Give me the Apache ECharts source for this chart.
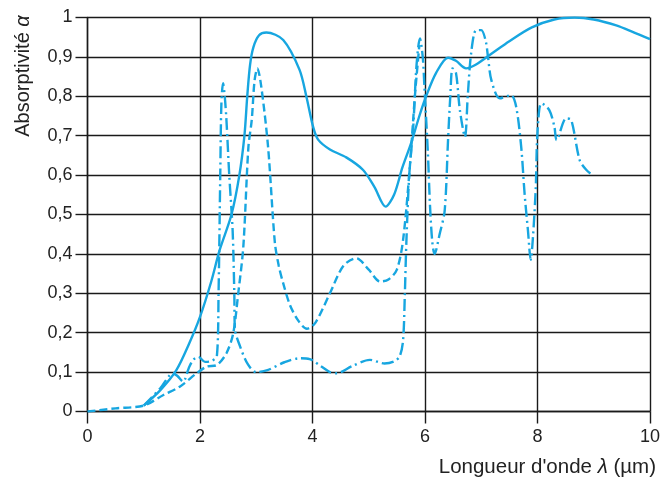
<!DOCTYPE html>
<html>
<head>
<meta charset="utf-8">
<script src="https://cdn.jsdelivr.net/npm/echarts@6/dist/echarts.min.js"></script>
<style>
  html, body { margin: 0; padding: 0; background: #fff; }
  #chart { width: 663px; height: 484px; }
</style>
</head>
<body>
<div id="chart"></div>
<script>
// Wavelength (µm) / absorptivity pairs for the three surfaces
const solidCurve = [
  [1.0, 0.015], [1.3, 0.055], [1.58, 0.105], [1.8, 0.17], [2.0, 0.24], [2.2, 0.33],
  [2.35, 0.41], [2.56, 0.5], [2.70, 0.6], [2.79, 0.7], [2.84, 0.8], [2.89, 0.88],
  [2.95, 0.925], [3.05, 0.955], [3.18, 0.962], [3.48, 0.943], [3.77, 0.867], [3.89, 0.80],
  [4.01, 0.723], [4.1, 0.69], [4.31, 0.665], [4.6, 0.645], [4.9, 0.613], [5.1, 0.57],
  [5.3, 0.52], [5.45, 0.55], [5.6, 0.62], [5.75, 0.68], [5.9, 0.75], [6.02, 0.80],
  [6.2, 0.86], [6.41, 0.898], [6.55, 0.89], [6.73, 0.871], [6.9, 0.88], [7.2, 0.91],
  [7.5, 0.94], [7.9, 0.975], [8.3, 0.995], [8.66, 1.0], [9.0, 0.995], [9.4, 0.98],
  [9.7, 0.963], [10, 0.945]
];

const dashedCurve = [
  [0, 0], [0.5, 0.008], [1.0, 0.015], [1.35, 0.042], [1.64, 0.063], [1.94, 0.097],
  [2.12, 0.114], [2.3, 0.118], [2.47, 0.148], [2.59, 0.198], [2.68, 0.3], [2.77, 0.418],
  [2.86, 0.67], [2.92, 0.74], [2.97, 0.84], [3.02, 0.871], [3.09, 0.824], [3.21, 0.672],
  [3.33, 0.43], [3.4, 0.37], [3.48, 0.325], [3.6, 0.27], [3.75, 0.23], [3.9, 0.21],
  [4.05, 0.225], [4.31, 0.30], [4.55, 0.37], [4.78, 0.389], [5.0, 0.36], [5.2, 0.33],
  [5.35, 0.335], [5.5, 0.36], [5.61, 0.435], [5.73, 0.62], [5.82, 0.80], [5.9, 0.93]
];

const dashDotCurve = [
  [1.0, 0.015], [1.3, 0.06], [1.52, 0.097], [1.6, 0.09], [1.7, 0.076], [1.8, 0.11],
  [1.88, 0.131], [1.97, 0.139], [2.09, 0.126], [2.2, 0.128], [2.3, 0.14], [2.33, 0.3],
  [2.36, 0.6], [2.38, 0.78], [2.41, 0.833], [2.44, 0.8], [2.47, 0.74], [2.52, 0.6],
  [2.58, 0.46], [2.61, 0.3], [2.62, 0.21], [2.7, 0.17], [2.85, 0.12], [3.0, 0.10],
  [3.2, 0.105], [3.5, 0.125], [3.77, 0.135], [3.95, 0.133], [4.15, 0.115], [4.31, 0.10],
  [4.43, 0.097], [4.7, 0.115], [5.02, 0.131], [5.28, 0.122], [5.45, 0.127], [5.55, 0.14],
  [5.61, 0.18], [5.64, 0.29], [5.67, 0.435], [5.72, 0.6], [5.79, 0.72], [5.85, 0.88],
  [5.91, 0.947], [5.96, 0.90], [5.99, 0.824], [6.05, 0.66], [6.09, 0.52], [6.13, 0.43],
  [6.17, 0.40], [6.26, 0.45], [6.35, 0.51], [6.41, 0.69], [6.45, 0.80], [6.49, 0.871],
  [6.55, 0.86], [6.62, 0.765], [6.71, 0.697], [6.76, 0.80], [6.82, 0.909], [6.91, 0.968],
  [7.0, 0.968], [7.08, 0.94], [7.12, 0.90], [7.18, 0.841], [7.33, 0.795], [7.53, 0.803],
  [7.62, 0.774], [7.71, 0.672], [7.77, 0.554], [7.83, 0.46], [7.88, 0.385], [7.92, 0.444],
  [7.97, 0.57], [7.99, 0.68], [8.03, 0.765], [8.07, 0.782], [8.21, 0.765], [8.30, 0.723],
  [8.34, 0.689], [8.51, 0.744], [8.60, 0.74], [8.75, 0.638], [8.87, 0.613], [8.98, 0.60]
];

// Axis tick labels
const xTickLabels = ['0', '2', '4', '6', '8', '10'];
const yTickLabels = ['0', '0,1', '0,2', '0,3', '0,4', '0,5', '0,6', '0,7', '0,8', '0,9', '1'];

const curveColor = '#17a6e0';
const inkColor = '#1a1a1a';
const fontFamily = '"Liberation Sans", Arial, sans-serif';

const chart = echarts.init(document.getElementById('chart'), null, { renderer: 'canvas' });

function curveSeries(data, dash) {
  return {
    type: 'line',
    data: data,
    showSymbol: false,
    smooth: 0.3,
    silent: true,
    lineStyle: { color: curveColor, width: 2.4, type: dash, cap: 'butt' },
    z: 3
  };
}

chart.setOption({
  animation: false,
  backgroundColor: '#fff',
  grid: { left: 87.5, right: 12.5, top: 17.5, bottom: 72.5, containLabel: false },
  xAxis: {
    type: 'value', min: 0, max: 10, interval: 2,
    axisLine: { show: true, lineStyle: { color: inkColor, width: 1.4 } },
    axisTick: { show: true, length: 12, lineStyle: { color: inkColor, width: 1.4 } },
    axisLabel: {
      margin: 17, fontSize: 18, color: '#222', fontFamily: fontFamily,
      formatter: v => xTickLabels[Math.round(v / 2)]
    },
    splitLine: { show: true, lineStyle: { color: inkColor, width: 1.4 } }
  },
  yAxis: {
    type: 'value', min: 0, max: 1, interval: 0.1,
    axisLine: { show: true, lineStyle: { color: inkColor, width: 1.4 } },
    axisTick: { show: true, length: 12, lineStyle: { color: inkColor, width: 1.4 } },
    axisLabel: {
      margin: 15, fontSize: 18, color: '#222', fontFamily: fontFamily,
      formatter: v => yTickLabels[Math.round(v * 10)]
    },
    splitLine: { show: true, lineStyle: { color: inkColor, width: 1.4 } }
  },
  graphic: [
    {
      type: 'text', x: 23, y: 76, rotation: Math.PI / 2,
      style: {
        text: 'Absorptivité {i|α}', align: 'center', verticalAlign: 'middle',
        fontSize: 20, fontFamily: fontFamily, fill: '#222',
        rich: { i: { fontSize: 20, fontStyle: 'italic', fontFamily: fontFamily, fill: '#222' } }
      }
    },
    {
      type: 'text', x: 656, y: 467,
      style: {
        text: 'Longueur d\'onde {i|λ} (µm)', align: 'right', verticalAlign: 'middle',
        fontSize: 20.5, fontFamily: fontFamily, fill: '#222',
        rich: { i: { fontSize: 20.5, fontStyle: 'italic', fontFamily: fontFamily, fill: '#222' } }
      }
    }
  ],
  series: [
    curveSeries(solidCurve, 'solid'),
    curveSeries(dashedCurve, [8, 4]),
    curveSeries(dashDotCurve, [12, 4, 2, 4])
  ]
});
</script>
</body>
</html>
